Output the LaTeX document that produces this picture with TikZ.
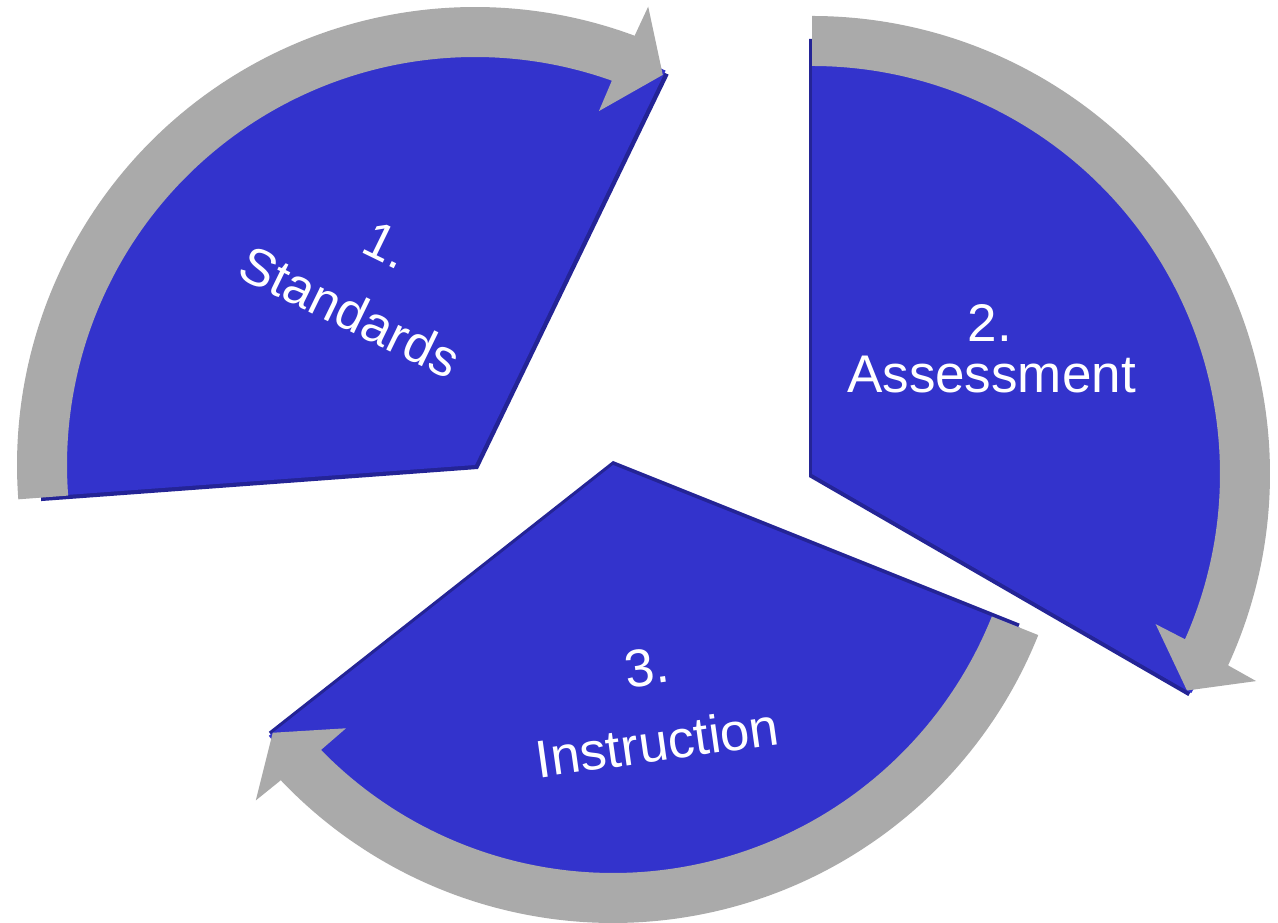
\documentclass[tikz,border=0pt]{standalone}
\usepackage{fontspec}
\setmainfont{Liberation Sans}
\definecolor{facebl}{RGB}{51,51,204}
\definecolor{sidebl}{RGB}{36,36,150}
\definecolor{arrowgr}{RGB}{170,170,170}
\tikzset{
  lbl/.style={text=white, inner sep=0pt, anchor=base},
  arrowband/.style={fill=arrowgr},
}
% gray curved arrow: center x, center y (pt), start angle; runs clockwise 120 deg
\newcommand{\myarrow}[3]{%
  \pgfmathsetmacro{\aS}{#3}%
  \pgfmathsetmacro{\aE}{#3-114.3}%
  \pgfmathsetmacro{\aT}{#3-120}%
  \pgfmathsetmacro{\aEo}{\aE-0.4}%
  \pgfmathsetmacro{\aEi}{\aE+0.4}%
  \pgfmathsetmacro{\aBo}{\aE-0.7}%
  \pgfmathsetmacro{\aBi}{\aE+0.7}%
  \begin{scope}[shift={(#1pt,#2pt)}]
  \fill[arrowband] (\aS:458pt) arc[start angle=\aS, end angle=\aEo, radius=458pt]
     -- (\aBo:490pt) -- (\aT:433pt) -- (\aBi:375pt) -- (\aEi:408pt)
     arc[start angle=\aEi, end angle=\aS, radius=408pt] -- cycle;
  \end{scope}}
% pie wedge with dark side: cx, cy, angle1, angle2, side dx, side dy
\newcommand{\mywedge}[6]{%
  \begin{scope}[shift={(#1pt,#2pt)}]
  \fill[sidebl, shift={(#5pt,#6pt)}] (0,0) -- (#3:438pt) arc[start angle=#3, end angle=#4, radius=438pt] -- cycle;
  \fill[facebl] (0,0) -- (#3:438pt) arc[start angle=#3, end angle=#4, radius=438pt] -- cycle;
  \end{scope}}
\begin{document}
\begin{tikzpicture}
\useasboundingbox (0,0) rectangle (1278pt,923pt);
\fill[white] (0,0) rectangle (1278pt,923pt);
% wedges
\mywedge{475}{458}{64.2}{184.2}{3}{-4}
\mywedge{812}{449}{-30}{90}{-3}{-3}
\mywedge{613}{458}{-141.8}{-21.8}{0}{4}
% arrows
\myarrow{475}{458}{184.3}
\myarrow{812}{449}{90}
\myarrow{613}{458}{-21.8}
% labels
\begin{scope}[shift={(342pt,595pt)}, rotate=-26, transform shape]
  \node[lbl, font=\fontsize{52}{52}\selectfont] (t1) at (0pt,0pt) {Standards};
  \node[lbl, font=\fontsize{52}{52}\selectfont] (n1) at (4pt,76pt) {1.};
\end{scope}
\node[lbl, font=\fontsize{53}{53}\selectfont] (n2) at (990pt,581pt) {2.};
\node[lbl, font=\fontsize{53}{53}\selectfont] (t2) at (991.5pt,530pt) {Assessment};
\begin{scope}[shift={(660pt,162pt)}, rotate=8, transform shape]
  \node[lbl, font=\fontsize{53}{53}\selectfont] (t3) at (0pt,0pt) {Instruction};
  \node[lbl, font=\fontsize{53}{53}\selectfont] (n3) at (0pt,76.8pt) {3.};
\end{scope}
\end{tikzpicture}
\end{document}
